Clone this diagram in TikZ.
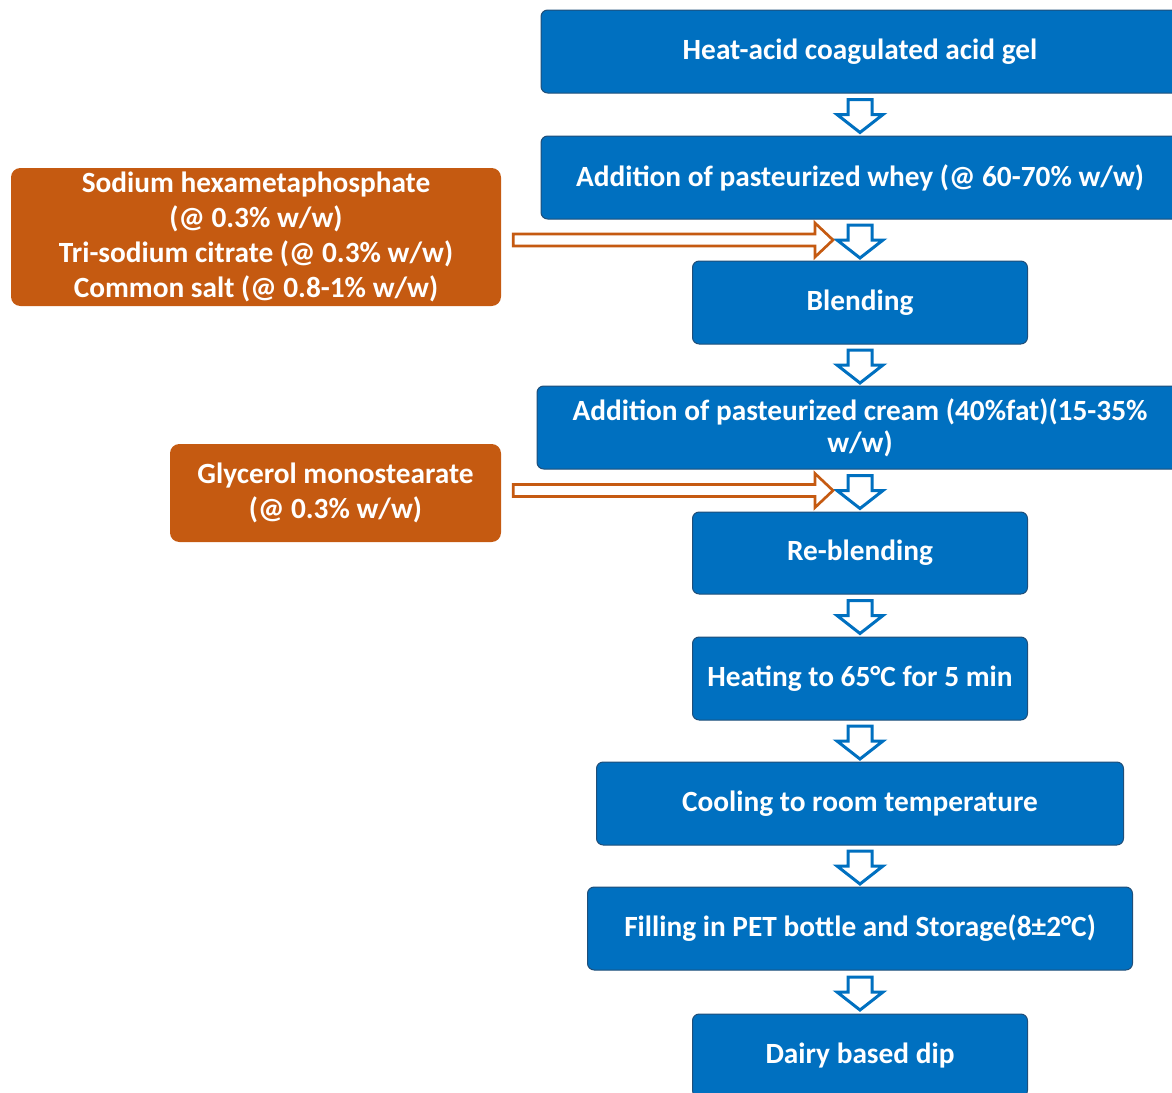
\documentclass[tikz,border=0pt]{standalone}
\usepackage{fontspec}
\setmainfont{Carlito}
\usetikzlibrary{calc}
\definecolor{boxblue}{HTML}{0070C0}
\definecolor{boxedge}{HTML}{1F4E79}
\definecolor{boxorange}{HTML}{C55A11}
\newcommand\flowstep[3]{%
  \coordinate (#3) at ($(#1.south)!0.5!(#2.north)$);
  \draw[flowarrow] (#3) ++(-12,-15) -- ++(24,0) -- ++(0,15) -- ++(11,0) -- ++(-23,18) -- ++(-23,-18) -- ++(11,0) -- cycle;}
\newcommand\sidestep[2]{%
  \draw[sidearrow] ($(#1.east |- #2)+(12,-6)$) -- ($(#2)+(-45,-6)$) -- ($(#2)+(-45,-17)$) -- ($(#2)+(-27,0)$) -- ($(#2)+(-45,17)$) -- ($(#2)+(-45,6)$) -- ($(#1.east |- #2)+(12,6)$) -- cycle;}
\begin{document}
\begin{tikzpicture}[x=0.75pt,y=-0.75pt,
  stepbox/.style={draw=boxedge, line width=0.75pt, fill=boxblue, rounded corners=5pt, text=white,
    font=\bfseries\fontsize{22}{24}\selectfont, align=center, inner sep=0pt, minimum height=62.25pt},
  addbox/.style={fill=boxorange, rounded corners=7pt, text=white,
    font=\bfseries\fontsize{22}{26.25}\selectfont, align=center, inner sep=0pt},
  flowarrow/.style={draw=boxblue, line width=2.25pt, fill=white, line join=miter},
  sidearrow/.style={draw=boxorange, line width=2pt, fill=white, line join=miter}]
\useasboundingbox (0,0) rectangle (1172,1093);
\clip (0,0) rectangle (1172,1093);
\node[stepbox, minimum width=478.5pt] (b1) at (860,51.5) {Heat-acid coagulated acid gel};
\node[stepbox, minimum width=478.5pt] (b2) at (860,177.5) {Addition of pasteurized whey (@ 60-70\% w/w)};
\node[stepbox, minimum width=251.25pt] (b3) at (860,302.5) {Blending};
\node[stepbox, minimum width=484.5pt] (b4) at (860,427.5) {Addition of pasteurized cream (40\%fat)(15-35\%\\w/w)};
\node[stepbox, minimum width=251.25pt, minimum height=61.5pt] (b5) at (860,553) {Re-blending};
\node[stepbox, minimum width=251.25pt] (b6) at (860,678.5) {Heating to 65°C for 5 min};
\node[stepbox, minimum width=395.25pt] (b7) at (860,803.5) {Cooling to room temperature};
\node[stepbox, minimum width=408.75pt] (b8) at (860,928.5) {Filling in PET bottle and Storage(8±2°C)};
\node[stepbox, minimum width=251.25pt] (b9) at (860,1055.5) {Dairy based dip};
\node[addbox, minimum width=367.5pt, minimum height=103.5pt] (o1) at (256,237) {Sodium hexametaphosphate\\(@ 0.3\% w/w)\\Tri-sodium citrate (@ 0.3\% w/w)\\Common salt (@ 0.8-1\% w/w)};
\node[addbox, minimum width=248.25pt, minimum height=73.5pt] (o2) at (335.5,493) {Glycerol monostearate\\(@ 0.3\% w/w)};
\flowstep{b1}{b2}{m1}
\flowstep{b2}{b3}{m2}
\flowstep{b3}{b4}{m3}
\flowstep{b4}{b5}{m4}
\flowstep{b5}{b6}{m5}
\flowstep{b6}{b7}{m6}
\flowstep{b7}{b8}{m7}
\flowstep{b8}{b9}{m8}
\sidestep{o1}{m2}
\sidestep{o2}{m4}
\end{tikzpicture}
\end{document}
